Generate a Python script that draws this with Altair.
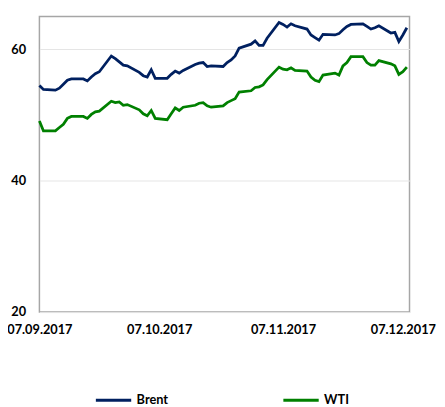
import altair as alt
import pandas as pd

dates = [
    "2017-09-07", "2017-09-08", "2017-09-11", "2017-09-12", "2017-09-13", "2017-09-14", "2017-09-15",
    "2017-09-18", "2017-09-19", "2017-09-20", "2017-09-21", "2017-09-22",
    "2017-09-25", "2017-09-26", "2017-09-27", "2017-09-28", "2017-09-29",
    "2017-10-02", "2017-10-03", "2017-10-04", "2017-10-05", "2017-10-06",
    "2017-10-09", "2017-10-10", "2017-10-11", "2017-10-12", "2017-10-13",
    "2017-10-16", "2017-10-17", "2017-10-18", "2017-10-19", "2017-10-20",
    "2017-10-23", "2017-10-24", "2017-10-25", "2017-10-26", "2017-10-27",
    "2017-10-30", "2017-10-31", "2017-11-01", "2017-11-02", "2017-11-03",
    "2017-11-06", "2017-11-07", "2017-11-08", "2017-11-09", "2017-11-10",
    "2017-11-13", "2017-11-14", "2017-11-15", "2017-11-16", "2017-11-17",
    "2017-11-20", "2017-11-21", "2017-11-22", "2017-11-23", "2017-11-24",
    "2017-11-27", "2017-11-28", "2017-11-29", "2017-11-30", "2017-12-01",
    "2017-12-04", "2017-12-05", "2017-12-06", "2017-12-07", "2017-12-08",
]

brent = [
    54.5, 53.9, 53.8, 54.1, 54.7, 55.3, 55.5,
    55.5, 55.2, 55.8, 56.3, 56.6,
    59.0, 58.6, 58.1, 57.6, 57.5,
    56.5, 56.0, 55.8, 56.9, 55.6,
    55.6, 56.2, 56.7, 56.4, 56.8,
    57.7, 57.9, 58.0, 57.4, 57.5,
    57.4, 58.0, 58.4, 59.0, 60.2,
    60.8, 61.3, 60.6, 60.6, 61.7,
    64.1, 63.8, 63.4, 63.9, 63.6,
    63.1, 62.2, 61.8, 61.4, 62.3,
    62.2, 62.4, 63.0, 63.5, 63.8,
    63.9, 63.5, 63.1, 63.3, 63.6,
    62.5, 62.6, 61.2, 62.2, 63.3,
]

wti = [
    49.1, 47.6, 47.6, 48.1, 48.6, 49.5, 49.8,
    49.8, 49.5, 50.1, 50.5, 50.6,
    52.1, 51.9, 52.0, 51.5, 51.6,
    50.8, 50.2, 49.9, 50.7, 49.5,
    49.3, 50.2, 51.1, 50.7, 51.2,
    51.5, 51.8, 51.9, 51.4, 51.2,
    51.4, 51.9, 52.2, 52.5, 53.5,
    53.7, 54.2, 54.3, 54.6, 55.4,
    57.3, 57.0, 56.9, 57.2, 56.8,
    56.7, 55.8, 55.3, 55.1, 56.1,
    56.4, 56.1, 57.5, 58.0, 58.9,
    58.9, 58.0, 57.6, 57.6, 58.3,
    57.8, 57.5, 56.2, 56.6, 57.3,
]

series_names = ["Brent", "WTI"]
series_colors = ["#002060", "#008000"]
y_ticks = [20, 40, 60]

df = pd.concat([
    pd.DataFrame({"date": dates, "value": brent, "series": "Brent"}),
    pd.DataFrame({"date": dates, "value": wti, "series": "WTI"}),
])

x_ticks = [
    alt.DateTime(year=2017, month=9, date=7, utc=True),
    alt.DateTime(year=2017, month=10, date=7, utc=True),
    alt.DateTime(year=2017, month=11, date=7, utc=True),
    alt.DateTime(year=2017, month=12, date=7, utc=True),
]

FONT = "Lato"

chart = alt.Chart(df).mark_line(strokeWidth=2.8).encode(
    x=alt.X(
        "date:T",
        scale=alt.Scale(
            type="utc",
            domain=[
                alt.DateTime(year=2017, month=9, date=7, utc=True),
                alt.DateTime(year=2017, month=12, date=8, hours=16, utc=True),
            ],
        ),
        axis=alt.Axis(
            values=x_ticks, format="%d.%m.%Y", title=None, grid=False, ticks=False,
            domain=False, labelFontWeight="bold", labelFontSize=13, labelFont=FONT,
            labelColor="#000000", labelPadding=12, labelOverlap=False, labelFlush=False,
        ),
    ),
    y=alt.Y(
        "value:Q",
        scale=alt.Scale(domain=[20, 65], nice=False, zero=False),
        axis=alt.Axis(
            values=y_ticks, title=None, grid=True, gridColor="#e4e4e4", gridWidth=1,
            ticks=False, domain=False, labelFontWeight="bold", labelFontSize=13,
            labelFont=FONT, labelColor="#000000", labelPadding=14,
        ),
    ),
    color=alt.Color(
        "series:N",
        scale=alt.Scale(domain=series_names, range=series_colors),
        legend=alt.Legend(
            title=None, orient="none", direction="horizontal", legendX=56, legendY=371,
            symbolType="stroke", symbolSize=1296, symbolStrokeWidth=3,
            labelFontWeight="bold", labelFontSize=13, labelFont=FONT,
            labelColor="#000000", columnPadding=110, labelOffset=4,
        ),
    ),
    order=alt.Order("date:T"),
).properties(
    width=377,
    height=301,
    autosize=alt.AutoSizeParams(type="none"),
    padding={"left": 32, "top": 5, "right": 28, "bottom": 96},
).configure_view(
    stroke="#a6a6a6", strokeWidth=1.5
)

chart.save("out.html", embed_options={"renderer": "svg", "actions": False})
